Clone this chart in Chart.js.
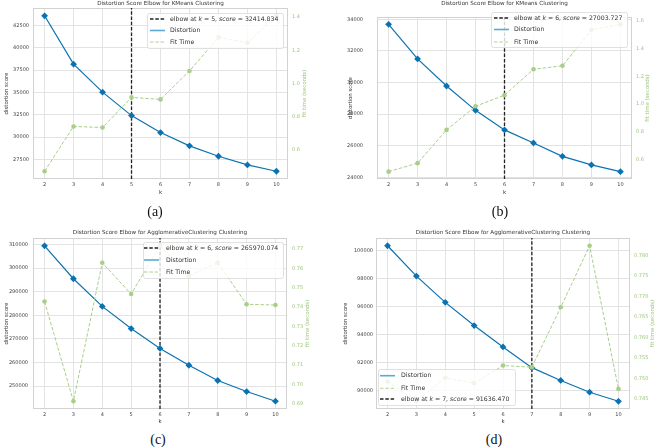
<!DOCTYPE html>
<html lang="en">
<head>
<meta charset="utf-8">
<script src="https://cdn.jsdelivr.net/npm/chart.js@4.4.1/dist/chart.umd.min.js"></script>
<title>Distortion Score Elbow</title>
<style>
  body { margin: 0; background: #fff; width: 656px; height: 447px; position: relative; overflow: hidden; }
  canvas { position: absolute; }
  .cap { position: absolute; font-family: 'Liberation Serif', 'Times New Roman', serif; font-size: 14px; color: #111; transform: translate(-50%, -50%); }
</style>
</head>
<body>
<canvas id="chart-a" width="328" height="200" style="left:0;top:0"></canvas>
<canvas id="chart-b" width="328" height="200" style="left:328px;top:0"></canvas>
<canvas id="chart-c" width="328" height="215" style="left:0;top:215px"></canvas>
<canvas id="chart-d" width="328" height="215" style="left:328px;top:215px"></canvas>
<div class="cap" style="left:155px;top:212px">(a)</div>
<div class="cap" style="left:500px;top:212px">(b)</div>
<div class="cap" style="left:158px;top:440px">(c)</div>
<div class="cap" style="left:494px;top:440px">(d)</div>

<script>
const kValues = [2, 3, 4, 5, 6, 7, 8, 9, 10];

// (a) KMeans
const distortionA = [43580, 38170, 35040, 32414.834, 30520, 29030, 27870, 26900, 26190];
const fitTimeA = [0.473, 0.742, 0.736, 0.917, 0.905, 1.076, 1.278, 1.246, 1.408];
const distTicksA = [27500, 30000, 32500, 35000, 37500, 40000, 42500];
const fitTicksA = [0.6, 0.8, 1.0, 1.2, 1.4];

// (b) KMeans
const distortionB = [33680, 31495, 29780, 28240, 27003.727, 26180, 25333, 24790, 24364];
const fitTimeB = [0.514, 0.575, 0.814, 0.984, 1.064, 1.250, 1.275, 1.534, 1.573];
const distTicksB = [24000, 26000, 28000, 30000, 32000, 34000];
const fitTicksB = [0.6, 0.8, 1.0, 1.2, 1.4, 1.6];

// (c) Agglomerative
const distortionC = [309430, 295470, 283780, 274390, 265970.074, 258870, 252400, 247740, 243640];
const fitTimeC = [0.7428, 0.6912, 0.7629, 0.7467, 0.7717, 0.7560, 0.7629, 0.7414, 0.7410];
const distTicksC = [250000, 260000, 270000, 280000, 290000, 300000, 310000];
const fitTicksC = [0.69, 0.70, 0.71, 0.72, 0.73, 0.74, 0.75, 0.76, 0.77];

// (d) Agglomerative
const distortionD = [100360, 98190, 96310, 94650, 93120, 91636.470, 90720, 89880, 89230];
const fitTimeD = [0.7493, 0.7445, 0.7502, 0.7489, 0.7532, 0.7528, 0.7674, 0.7824, 0.7475];
const distTicksD = [90000, 92000, 94000, 96000, 98000, 100000];
const fitTicksD = [0.745, 0.750, 0.755, 0.760, 0.765, 0.770, 0.775, 0.780];

const elbowKs = [5, 6, 6, 7];
const elbowScores = [32414.834, 27003.727, 265970.074, 91636.470];

const BLUE = '#0b72b1';
const GREEN = '#a7cf88';
const GREEN_TEXT = '#9cc67c';
const GRID = '#e3e3e3';
const SPINE = '#d2d2d2';
const FONT = "'DejaVu Sans', sans-serif";

const panels = [
  { id: 'chart-a', title: 'Distortion Score Elbow for KMeans Clustering',
    dist: distortionA, fit: fitTimeA, distTicks: distTicksA, fitTicks: fitTicksA, fitDigits: 1,
    yMin: 25325, yMax: 44451, y1Min: 0.426, y1Max: 1.455, elbow: 0,
    leftW: 33, rightW: 40, padTop: 8, xH: 21, leftPad: 4, rightPad: 4,
    titleY: 4, kY: 193, yTitleX: 7, y1TitleOff: 17,
    legend: { x: 147, y: 13, w: 136, h: 35, rowY: [19, 30.5, 42], lx: 150, tx: 170, order: ['elbow', 'dist', 'fit'] } },
  { id: 'chart-b', title: 'Distortion Score Elbow for KMeans Clustering',
    dist: distortionB, fit: fitTimeB, distTicks: distTicksB, fitTicks: fitTicksB, fitDigits: 1,
    yMin: 23898, yMax: 34146, y1Min: 0.461, y1Max: 1.626, elbow: 1,
    leftW: 49, rightW: 24, padTop: 8, xH: 21, leftPad: 14, rightPad: 4,
    titleY: 4, kY: 193, yTitleX: 23, y1TitleOff: 16,
    legend: { x: 163, y: 12, w: 136, h: 35, rowY: [18, 29.5, 42], lx: 166, tx: 186, order: ['elbow', 'dist', 'fit'] } },
  { id: 'chart-c', title: 'Distortion Score Elbow for AgglomerativeClustering Clustering',
    dist: distortionC, fit: fitTimeC, distTicks: distTicksC, fitTicks: fitTicksC, fitDigits: 2,
    yMin: 240345, yMax: 312724, y1Min: 0.6872, y1Max: 0.7757, elbow: 2,
    leftW: 33, rightW: 41, padTop: 23, xH: 21, leftPad: 5, rightPad: 5,
    titleY: 18, kY: 207, yTitleX: 7, y1TitleOff: 21,
    legend: { x: 143, y: 27, w: 140, h: 36, rowY: [33, 45, 57], lx: 144, tx: 166, order: ['elbow', 'dist', 'fit'] } },
  { id: 'chart-d', title: 'Distortion Score Elbow for AgglomerativeClustering Clustering',
    dist: distortionD, fit: fitTimeD, distTicks: distTicksD, fitTicks: fitTicksD, fitDigits: 3,
    yMin: 88678, yMax: 100915, y1Min: 0.7426, y1Max: 0.7843, elbow: 3,
    leftW: 48, rightW: 26, padTop: 23, xH: 21, leftPad: 3, rightPad: 4,
    titleY: 18, kY: 207, yTitleX: 18, y1TitleOff: 23,
    legend: { x: 50, y: 154, w: 137, h: 36, rowY: [160.7, 173.3, 184], lx: 52, tx: 73, order: ['dist', 'fit', 'elbow'] } }
];

function drawSample(ctx, kind, x, y) {
  ctx.save();
  ctx.beginPath();
  ctx.moveTo(x, y);
  ctx.lineTo(x + 15, y);
  if (kind === 'elbow') { ctx.strokeStyle = '#222'; ctx.lineWidth = 1.3; ctx.setLineDash([3.5, 1.8]); }
  else if (kind === 'dist') { ctx.strokeStyle = '#5aaad4'; ctx.lineWidth = 1.6; }
  else { ctx.strokeStyle = GREEN; ctx.lineWidth = 0.9; ctx.setLineDash([3.5, 1.8]); }
  ctx.stroke();
  ctx.restore();
}

function drawLegendText(ctx, kind, p, x, y) {
  ctx.fillStyle = '#333';
  ctx.textBaseline = 'middle';
  ctx.textAlign = 'left';
  let parts;
  if (kind === 'elbow') {
    parts = [['elbow at ', false], ['k', true], [' = ' + elbowKs[p.elbow] + ', ', false],
             ['score', true], [' = ' + elbowScores[p.elbow].toFixed(3), false]];
  } else {
    parts = [[kind === 'dist' ? 'Distortion' : 'Fit Time', false]];
  }
  for (const [txt, it] of parts) {
    ctx.font = (it ? 'italic ' : '') + '6.2px ' + FONT;
    ctx.fillText(txt, x, y);
    x += ctx.measureText(txt).width;
  }
}

const decor = {
  id: 'decor',
  beforeDatasetsDraw(chart) {
    const a = chart.chartArea, ctx = chart.ctx;
    ctx.save();
    ctx.strokeStyle = SPINE;
    ctx.lineWidth = 1;
    ctx.strokeRect(a.left + 0.5, a.top + 0.5, a.right - a.left - 1, a.bottom - a.top - 1);
    ctx.restore();
  },
  afterDraw(chart, args, opts) {
    const p = opts.panel, a = chart.chartArea, ctx = chart.ctx;
    const midX = (a.left + a.right) / 2, midY = (a.top + a.bottom) / 2;
    ctx.save();
    ctx.fillStyle = '#333';
    ctx.textAlign = 'center';
    ctx.textBaseline = 'middle';
    ctx.font = '5.6px ' + FONT;
    ctx.fillText(p.title, midX, p.titleY);
    ctx.font = '5.4px ' + FONT;
    ctx.fillText('k', midX, p.kY);
    ctx.save();
    ctx.translate(p.yTitleX, midY);
    ctx.rotate(-Math.PI / 2);
    ctx.fillText('distortion score', 0, 0);
    ctx.restore();
    ctx.save();
    ctx.fillStyle = GREEN_TEXT;
    ctx.translate(a.right + p.y1TitleOff, midY);
    ctx.rotate(-Math.PI / 2);
    ctx.fillText('fit time (seconds)', 0, 0);
    ctx.restore();

    const L = p.legend;
    ctx.fillStyle = 'rgba(255,255,255,0.8)';
    ctx.strokeStyle = '#d8d8d8';
    ctx.lineWidth = 0.8;
    ctx.beginPath();
    ctx.roundRect(L.x + 0.5, L.y + 0.5, L.w, L.h, 2);
    ctx.fill();
    ctx.stroke();
    L.order.forEach((kind, i) => {
      drawSample(ctx, kind, L.lx, L.rowY[i]);
      drawLegendText(ctx, kind, p, L.tx, L.rowY[i]);
    });
    ctx.restore();
  }
};

function makeChart(p) {
  const kx = elbowKs[p.elbow];
  return new Chart(document.getElementById(p.id), {
    type: 'line',
    data: {
      datasets: [
        { label: 'Fit Time', yAxisID: 'y1', order: 0,
          data: kValues.map((k, i) => ({ x: k, y: p.fit[i] })),
          borderColor: GREEN, borderWidth: 1, borderDash: [3.5, 1.8],
          pointRadius: 2.3, pointBackgroundColor: GREEN, pointBorderWidth: 0 },
        { label: 'Distortion', yAxisID: 'y', order: 1,
          data: kValues.map((k, i) => ({ x: k, y: p.dist[i] })),
          borderColor: BLUE, borderWidth: 1.2,
          pointStyle: 'rectRot', pointRadius: 3.4, pointBackgroundColor: BLUE, pointBorderWidth: 0 },
        { label: 'elbow', yAxisID: 'y', order: 2,
          data: [{ x: kx, y: p.yMin }, { x: kx, y: p.yMax }],
          borderColor: '#222', borderWidth: 1.3, borderDash: [3.5, 1.8], pointRadius: 0 }
      ]
    },
    options: {
      responsive: false,
      animation: false,
      devicePixelRatio: 1,
      layout: { padding: { top: p.padTop, left: 0, right: 0, bottom: 0 } },
      plugins: { legend: { display: false }, tooltip: { enabled: false }, decor: { panel: p } },
      scales: {
        x: {
          type: 'linear', min: 1.6, max: 10.4,
          afterBuildTicks: s => { s.ticks = kValues.map(v => ({ value: v })); },
          afterFit: s => { s.height = p.xH; },
          grid: { color: GRID, drawTicks: false },
          border: { display: false },
          ticks: { autoSkip: false, maxRotation: 0, padding: 3, color: '#444', font: { family: FONT, size: 5 } }
        },
        y: {
          position: 'left', min: p.yMin, max: p.yMax,
          afterBuildTicks: s => { s.ticks = p.distTicks.map(v => ({ value: v })); },
          afterFit: s => { s.width = p.leftW; },
          grid: { color: GRID, drawTicks: false },
          border: { display: false },
          ticks: { padding: p.leftPad, color: '#444', font: { family: FONT, size: 5 }, callback: v => String(v) }
        },
        y1: {
          position: 'right', min: p.y1Min, max: p.y1Max,
          afterBuildTicks: s => { s.ticks = p.fitTicks.map(v => ({ value: v })); },
          afterFit: s => { s.width = p.rightW; },
          grid: { display: false, drawTicks: false },
          border: { display: false },
          ticks: { padding: p.rightPad, color: GREEN_TEXT, font: { family: FONT, size: 5 }, callback: v => v.toFixed(p.fitDigits) }
        }
      }
    },
    plugins: [decor]
  });
}

panels.forEach(makeChart);
</script>
</body>
</html>
